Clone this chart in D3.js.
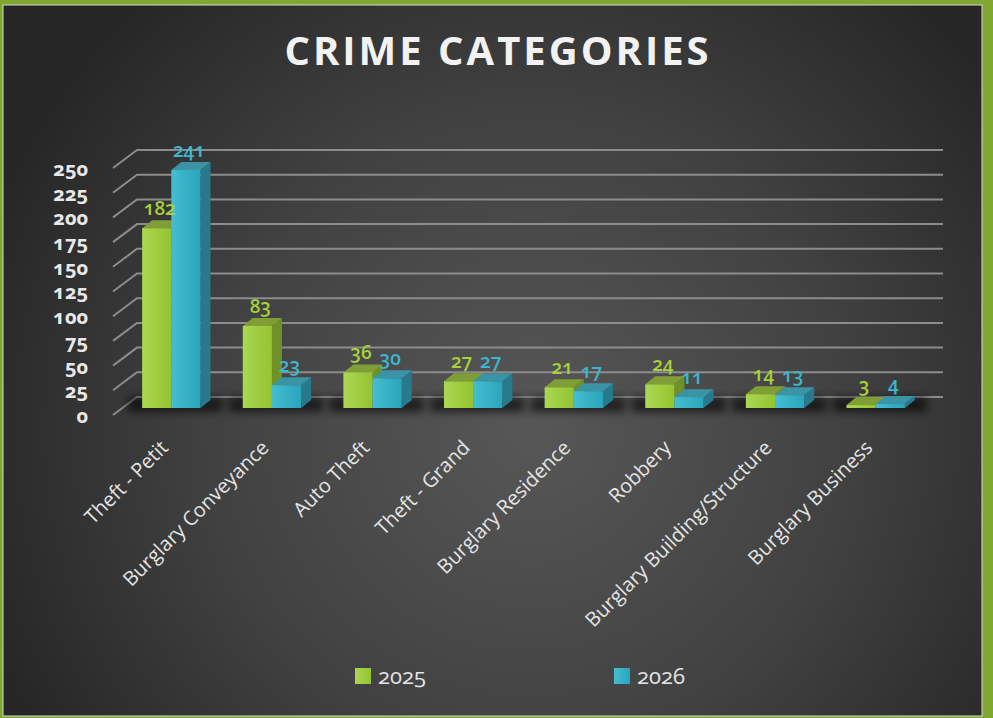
<!DOCTYPE html>
<html>
<head>
<meta charset="utf-8">
<script src="https://cdn.jsdelivr.net/npm/d3@7"></script>
<style>
  html, body { margin: 0; padding: 0; background: #80a72f; }
  svg { display: block; }
  text { font-family: "Open Sans", "Noto Sans", sans-serif; font-variant-numeric: oldstyle-nums; }
</style>
</head>
<body>
<div id="chart"></div>
<script>
// data
const categories = ['Theft - Petit', 'Burglary Conveyance', 'Auto Theft', 'Theft - Grand',
  'Burglary Residence', 'Robbery', 'Burglary Building/Structure', 'Burglary Business'];
const seriesNames = ['2025', '2026'];
const values2025 = [182, 83, 36, 27, 21, 24, 14, 3];
const values2026 = [241, 23, 30, 27, 17, 11, 13, 4];
const yTicks = [0, 25, 50, 75, 100, 125, 150, 175, 200, 225, 250];

const W = 993, H = 718;
const depth = { dx: 10, dy: 8 };
const colors = {
  '2025': { front: ['#abd752', '#93c431'], top: '#7f9f36', side: '#6e9128', label: '#a6d13a' },
  '2026': { front: ['#45bdd2', '#2aa5bb'], top: '#3b93a6', side: '#27798b', label: '#3bb7cf' },
};

const svg = d3.select('#chart').append('svg')
  .attr('width', W).attr('height', H);

const defs = svg.append('defs');

// background glow
const bg = defs.append('radialGradient').attr('id', 'bg')
  .attr('gradientUnits', 'userSpaceOnUse')
  .attr('cx', 530).attr('cy', 430).attr('r', 580);
bg.append('stop').attr('offset', '0%').attr('stop-color', '#575757');
bg.append('stop').attr('offset', '55%').attr('stop-color', '#414141');
bg.append('stop').attr('offset', '100%').attr('stop-color', '#262626');

seriesNames.forEach(s => {
  const g = defs.append('linearGradient').attr('id', 'front' + s)
    .attr('x1', 0).attr('y1', 0).attr('x2', 1).attr('y2', 0);
  g.append('stop').attr('offset', '0%').attr('stop-color', colors[s].front[0]);
  g.append('stop').attr('offset', '100%').attr('stop-color', colors[s].front[1]);
});

defs.append('filter').attr('id', 'blur')
  .attr('x', '-50%').attr('y', '-50%').attr('width', '200%').attr('height', '200%')
  .append('feGaussianBlur').attr('stdDeviation', 4);

// frame
svg.append('rect').attr('width', W).attr('height', H).attr('fill', '#80a72f');
svg.append('rect')
  .attr('x', 3).attr('y', 5).attr('width', 979).attr('height', 711)
  .attr('fill', 'url(#bg)')
  .attr('stroke', '#d8d8d8').attr('stroke-width', 1);

// title
svg.append('text')
  .attr('x', 498).attr('y', 65)
  .attr('text-anchor', 'middle')
  .attr('fill', '#f2f2f2')
  .style('font-size', '40px').style('font-weight', 700).style('letter-spacing', '3px')
  .text('CRIME CATEGORIES');

// scales
const x = d3.scaleBand().domain(categories).range([121, 926])
  .paddingInner(0.42).paddingOuter(0.21);
const xSub = d3.scaleBand().domain(seriesNames).range([0, x.bandwidth()]);
const y = d3.scaleLinear().domain([0, 250]).range([408, 161]);

// back wall gridlines with the slanted side edge
const wall = { back: -11, front: 7, xBack: 137, xFront: 113, xEnd: 943 };
const grid = svg.append('g').attr('stroke', '#8c8c8c').attr('stroke-width', 2).attr('fill', 'none');
yTicks.forEach(v => {
  grid.append('path')
    .attr('d', `M${wall.xFront},${y(v) + wall.front}L${wall.xBack},${y(v) + wall.back}L${wall.xEnd},${y(v) + wall.back}`);
});

// y axis labels
const yAxis = svg.append('g')
  .attr('transform', 'translate(88,8)')
  .call(d3.axisLeft(y).tickValues(yTicks).tickSize(0).tickPadding(0));
yAxis.select('.domain').remove();
yAxis.selectAll('text')
  .attr('fill', '#e8e8e8')
  .style('font-size', '20px').style('font-weight', 700);

// floor shadows
const y0 = y(0);
svg.append('g').selectAll('rect').data(categories).join('rect')
  .attr('x', d => x(d) - 14)
  .attr('y', y0 - 11)
  .attr('width', x.bandwidth() + depth.dx + 26)
  .attr('height', 15)
  .attr('fill', '#000').attr('opacity', 0.6)
  .attr('filter', 'url(#blur)');

// 3d bars
const rows = categories.map((c, i) => ({ cat: c, vals: [values2025[i], values2026[i]] }));
const groups = svg.append('g').selectAll('g').data(rows).join('g')
  .attr('transform', d => `translate(${x(d.cat)},0)`);

seriesNames.forEach((s, si) => {
  const bw = xSub.bandwidth();
  const bars = groups.append('g');
  const bx = xSub(s);
  bars.append('path') // side
    .attr('fill', colors[s].side)
    .attr('d', d => {
      const yt = y(d.vals[si]);
      return `M${bx + bw},${yt}L${bx + bw + depth.dx},${yt - depth.dy}L${bx + bw + depth.dx},${y0 - depth.dy}L${bx + bw},${y0}Z`;
    });
  bars.append('path') // top
    .attr('fill', colors[s].top)
    .attr('d', d => {
      const yt = y(d.vals[si]);
      return `M${bx},${yt}L${bx + bw},${yt}L${bx + bw + depth.dx},${yt - depth.dy}L${bx + depth.dx},${yt - depth.dy}Z`;
    });
  bars.append('rect') // front
    .attr('x', bx).attr('width', bw)
    .attr('y', d => y(d.vals[si]))
    .attr('height', d => y0 - y(d.vals[si]))
    .attr('fill', `url(#front${s})`);
});

// data labels
seriesNames.forEach((s, si) => {
  groups.append('text')
    .attr('x', xSub(s) + xSub.bandwidth() / 2 + 3)
    .attr('y', d => y(d.vals[si]) - 13)
    .attr('text-anchor', 'middle')
    .attr('fill', colors[s].label)
    .style('font-size', '19px').style('font-weight', 600)
    .text(d => d.vals[si]);
});

// category labels
const xAxis = svg.append('g')
  .attr('transform', 'translate(-7,444)')
  .call(d3.axisBottom(x).tickSize(0).tickPadding(0));
xAxis.select('.domain').remove();
xAxis.selectAll('text')
  .attr('fill', '#e4e4e4')
  .attr('text-anchor', 'end')
  .attr('dy', '0.35em')
  .attr('transform', 'rotate(-45)')
  .style('font-size', '20px');

// legend
const legendX = [355, 614];
const legend = svg.append('g').selectAll('g').data(seriesNames).join('g')
  .attr('transform', (d, i) => `translate(${legendX[i]},668)`);
legend.append('rect').attr('width', 16).attr('height', 16)
  .attr('fill', d => `url(#front${d})`);
legend.append('text').attr('x', 23).attr('y', 16)
  .attr('fill', '#e4e4e4')
  .style('font-size', '22px')
  .text(d => d);
</script>
</body>
</html>
